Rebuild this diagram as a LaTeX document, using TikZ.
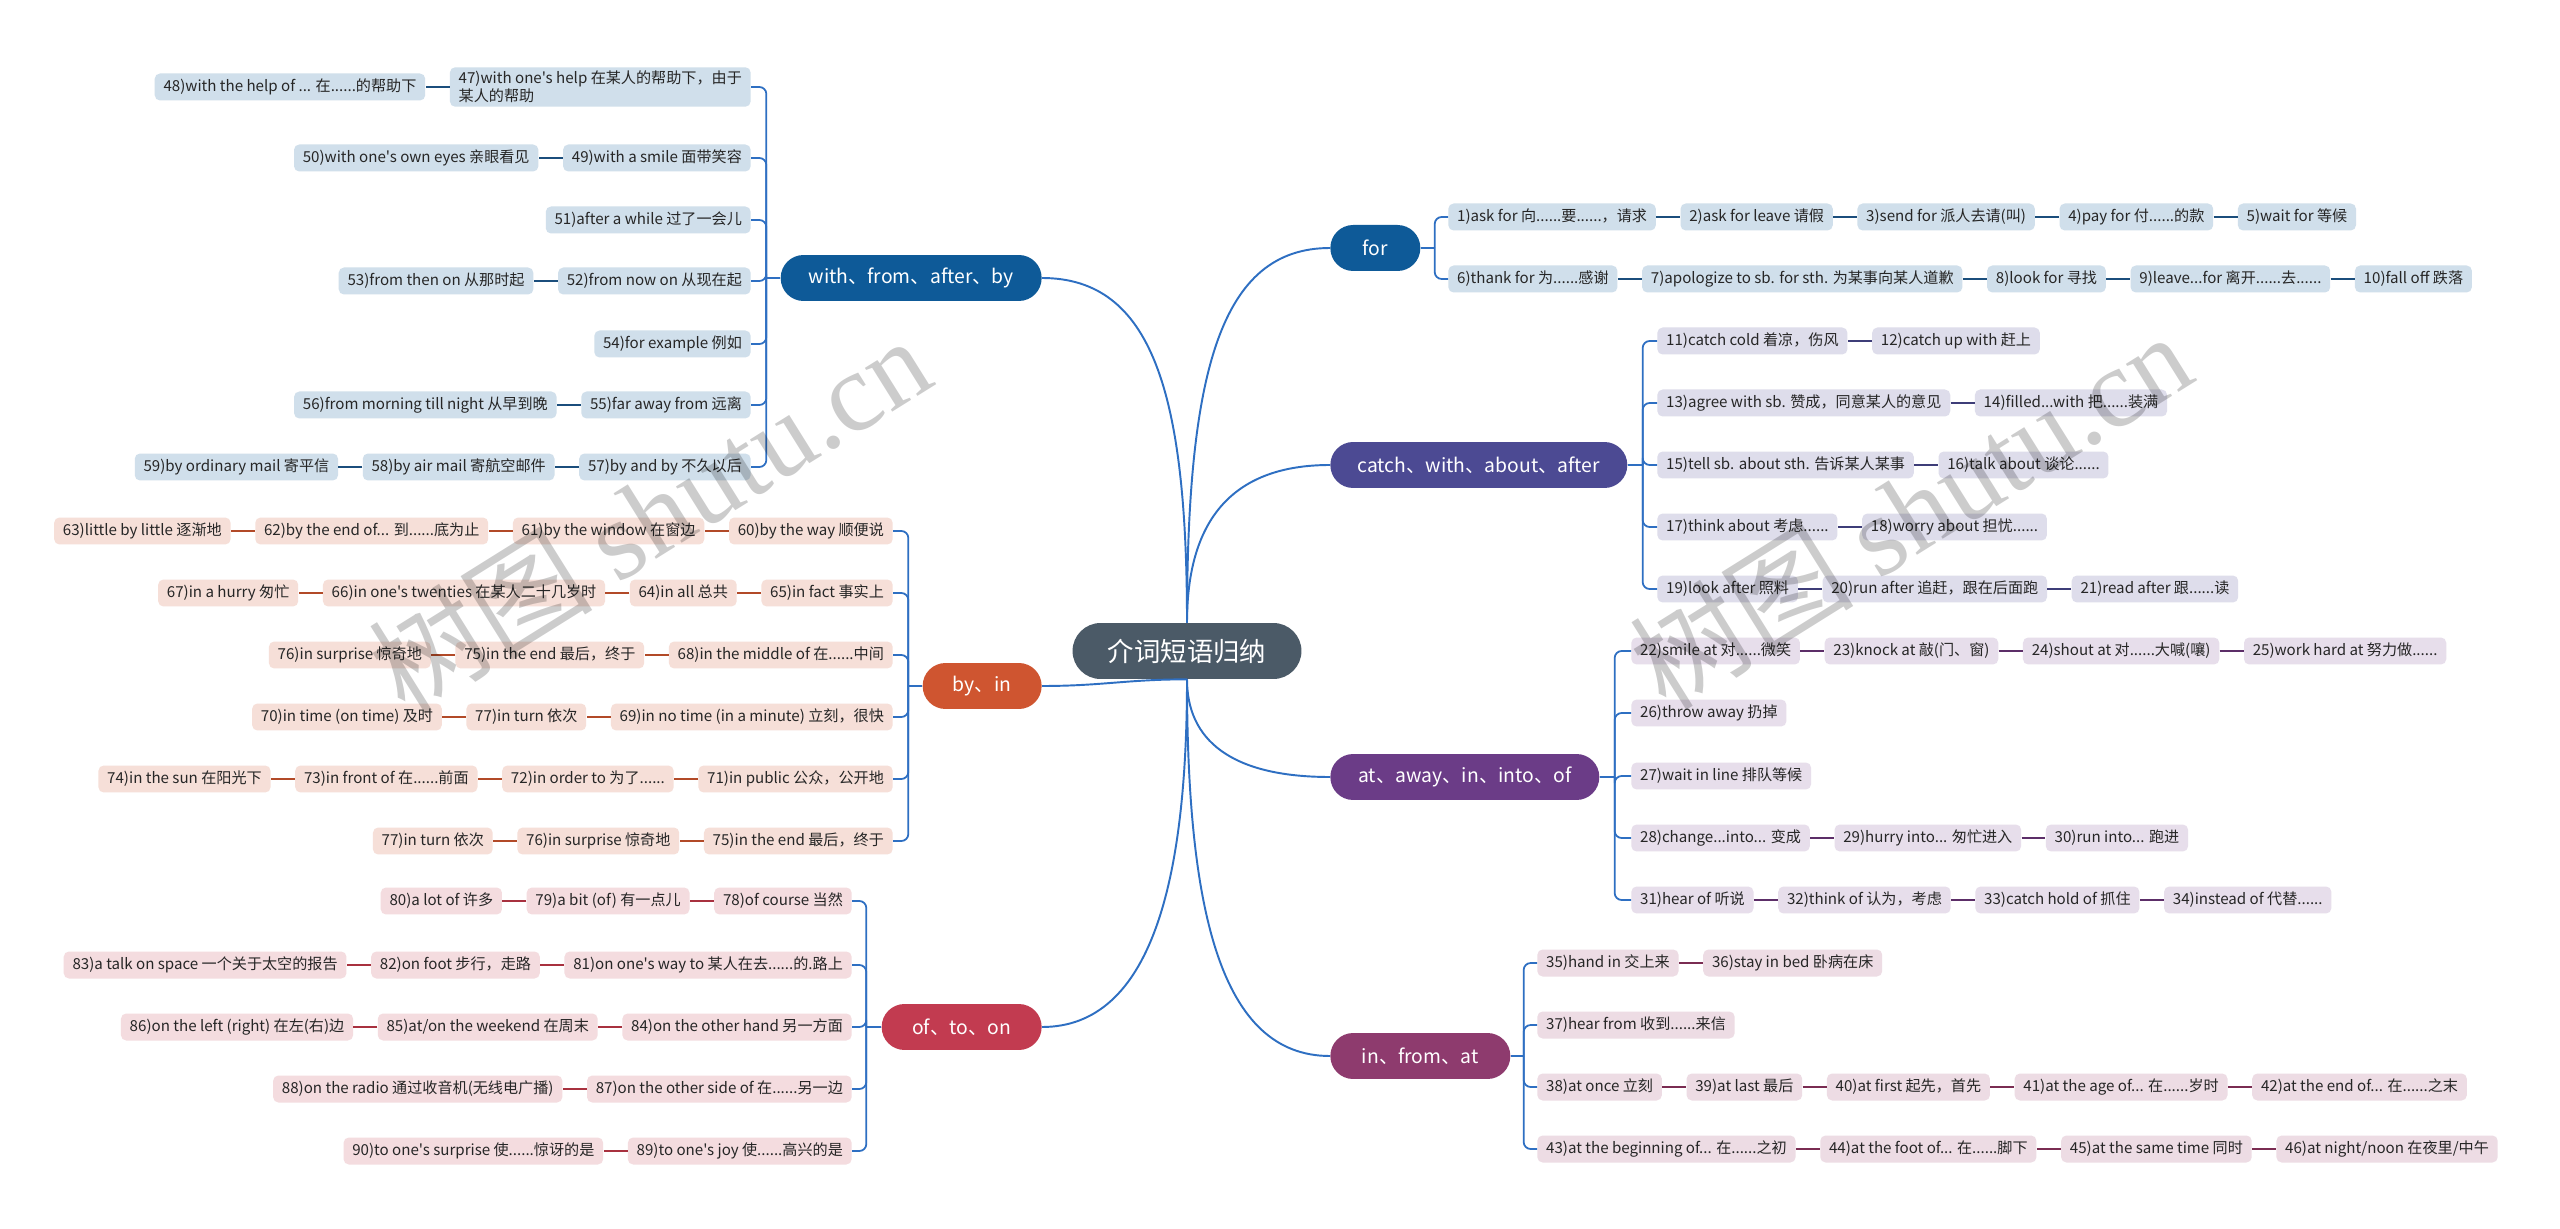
\documentclass[tikz,border=0pt]{standalone}
\usepackage{fontspec}
\setmainfont{Noto Sans CJK SC}[Ligatures=TeXOff]
\newfontfamily\wmserif{Liberation Serif}
\usetikzlibrary{positioning, calc}

\definecolor{cfor}{HTML}{0E5A98}
\definecolor{ccatch}{HTML}{4C4A93}
\definecolor{cat}{HTML}{6B3C87}
\definecolor{cin}{HTML}{8E3B6E}
\definecolor{cby}{HTML}{CF5530}
\definecolor{cof}{HTML}{C23B50}
\definecolor{croot}{HTML}{4B5A67}
\definecolor{cspine}{HTML}{2E6FC2}
\definecolor{lfor}{HTML}{D0DFEB}
\definecolor{lcatch}{HTML}{DEDDEB}
\definecolor{lat}{HTML}{E7DEEB}
\definecolor{lin}{HTML}{EDDCE4}
\definecolor{lby}{HTML}{F6DFD8}
\definecolor{lof}{HTML}{F4DCDF}
\definecolor{kfor}{HTML}{1B4E7C}
\definecolor{kcatch}{HTML}{3E3D78}
\definecolor{kat}{HTML}{5C2E68}
\definecolor{kin}{HTML}{7A2C52}
\definecolor{kby}{HTML}{B24A28}
\definecolor{kof}{HTML}{A8313F}

\tikzset{
  root/.style={
    rectangle,
    rounded corners=16pt,
    fill=croot,
    text=white,
    minimum width=4.58cm,
    minimum height=1.12cm,
    font=\fontsize{15}{18}\selectfont
  },
  topic/.style={
    rectangle,
    rounded corners=13pt,
    text=white,
    minimum height=0.92cm,
    inner xsep=8pt,
    font=\fontsize{11}{13}\selectfont
  },
  leaf/.style={
    rectangle,
    rounded corners=3pt,
    align=left,
    inner xsep=5pt,
    inner ysep=2pt,
    minimum height=0.54cm,
    text=black!85,
    font=\fontsize{8.6}{10.5}\selectfont
  },
  leaffor/.style={leaf, fill=lfor},
  leafcatch/.style={leaf, fill=lcatch},
  leafat/.style={leaf, fill=lat},
  leafin/.style={leaf, fill=lin},
  leafby/.style={leaf, fill=lby},
  leafof/.style={leaf, fill=lof},
  linkfor/.style={draw=kfor, line width=1.6pt},
  linkcatch/.style={draw=kcatch, line width=1.6pt},
  linkat/.style={draw=kat, line width=1.6pt},
  linkin/.style={draw=kin, line width=1.6pt},
  linkby/.style={draw=kby, line width=1.6pt},
  linkof/.style={draw=kof, line width=1.6pt},
  bracket/.style={draw=cspine, line width=1pt, rounded corners=4pt},
  curve/.style={draw=cspine, line width=1.1pt},
  watermark/.style={text=black, text opacity=0.2, font=\fontsize{64}{70}\selectfont}
}

\begin{document}
\begin{tikzpicture}[x=0.02cm, y=-0.02cm, node distance=0.48cm]
  \useasboundingbox[fill=white] (0,0) rectangle (2560,1229);

  \node[root] (root) at (1187,651) {介词短语归纳};

  % right side
  \node[topic, fill=cfor, minimum width=1.8cm, anchor=west] (gfor) at (1330,248) {for};
  \node[topic, fill=ccatch, minimum width=5.94cm, anchor=west] (gcatch) at (1330,465) {catch、with、about、after};
  \node[topic, fill=cat, minimum width=5.38cm, anchor=west] (gat) at (1330,777) {at、away、in、into、of};
  \node[topic, fill=cin, minimum width=3.6cm, anchor=west] (gin) at (1330,1056) {in、from、at};

  % left side
  \node[topic, fill=cfor, minimum width=5.22cm, anchor=east] (gwith) at (1042,278) {with、from、after、by};
  \node[topic, fill=cby, minimum width=2.38cm, anchor=east] (gby) at (1042,686) {by、in};
  \node[topic, fill=cof, minimum width=3.2cm, anchor=east] (gof) at (1042,1027) {of、to、on};

  \draw[curve] (root.north) .. controls +(0,-250) and +(-110,0) .. (gfor.west);
  \draw[curve] (root.north) .. controls +(0,-100) and +(-100,0) .. (gcatch.west);
  \draw[curve] (root.south) .. controls +(0,60) and +(-100,0) .. (gat.west);
  \draw[curve] (root.south) .. controls +(0,230) and +(-110,0) .. (gin.west);
  \draw[curve] (root.north) .. controls +(0,-230) and +(110,0) .. (gwith.east);
  \draw[curve] (root.south) .. controls +(-60,0) and +(60,0) .. (gby.east);
  \draw[curve] (root.south) .. controls +(0,200) and +(110,0) .. (gof.east);

  % for
  \node[leaffor, anchor=west] (n1) at (1448,217) {1)ask for 向......要......，请求};
  \node[leaffor, right=of n1] (n2) {2)ask for leave 请假};
  \node[leaffor, right=of n2] (n3) {3)send for 派人去请(叫)};
  \node[leaffor, right=of n3] (n4) {4)pay for 付......的款};
  \node[leaffor, right=of n4] (n5) {5)wait for 等候};
  \node[leaffor, anchor=west] (n6) at (1448,279) {6)thank for 为......感谢};
  \node[leaffor, right=of n6] (n7) {7)apologize to sb. for sth. 为某事向某人道歉};
  \node[leaffor, right=of n7] (n8) {8)look for 寻找};
  \node[leaffor, right=of n8] (n9) {9)leave...for 离开......去......};
  \node[leaffor, right=of n9] (n10) {10)fall off 跌落};

  % catch, with, about, after
  \node[leafcatch, anchor=west] (n11) at (1657,341) {11)catch cold 着凉，伤风};
  \node[leafcatch, right=of n11] (n12) {12)catch up with 赶上};
  \node[leafcatch, anchor=west] (n13) at (1657,403) {13)agree with sb. 赞成，同意某人的意见};
  \node[leafcatch, right=of n13] (n14) {14)filled...with 把......装满};
  \node[leafcatch, anchor=west] (n15) at (1657,465) {15)tell sb. about sth. 告诉某人某事};
  \node[leafcatch, right=of n15] (n16) {16)talk about 谈论......};
  \node[leafcatch, anchor=west] (n17) at (1657,527) {17)think about 考虑......};
  \node[leafcatch, right=of n17] (n18) {18)worry about 担忧......};
  \node[leafcatch, anchor=west] (n19) at (1657,589) {19)look after 照料};
  \node[leafcatch, right=of n19] (n20) {20)run after 追赶，跟在后面跑};
  \node[leafcatch, right=of n20] (n21) {21)read after 跟......读};

  % at, away, in, into, of
  \node[leafat, anchor=west] (n22) at (1631,651) {22)smile at 对......微笑};
  \node[leafat, right=of n22] (n23) {23)knock at 敲(门、窗)};
  \node[leafat, right=of n23] (n24) {24)shout at 对......大喊(嚷)};
  \node[leafat, right=of n24] (n25) {25)work hard at 努力做......};
  \node[leafat, anchor=west] (n26) at (1631,713) {26)throw away 扔掉};
  \node[leafat, anchor=west] (n27) at (1631,776) {27)wait in line 排队等候};
  \node[leafat, anchor=west] (n28) at (1631,838) {28)change...into... 变成};
  \node[leafat, right=of n28] (n29) {29)hurry into... 匆忙进入};
  \node[leafat, right=of n29] (n30) {30)run into... 跑进};
  \node[leafat, anchor=west] (n31) at (1631,900) {31)hear of 听说};
  \node[leafat, right=of n31] (n32) {32)think of 认为，考虑};
  \node[leafat, right=of n32] (n33) {33)catch hold of 抓住};
  \node[leafat, right=of n33] (n34) {34)instead of 代替......};

  % in, from, at
  \node[leafin, anchor=west] (n35) at (1537,963) {35)hand in 交上来};
  \node[leafin, right=of n35] (n36) {36)stay in bed 卧病在床};
  \node[leafin, anchor=west] (n37) at (1537,1025) {37)hear from 收到......来信};
  \node[leafin, anchor=west] (n38) at (1537,1087) {38)at once 立刻};
  \node[leafin, right=of n38] (n39) {39)at last 最后};
  \node[leafin, right=of n39] (n40) {40)at first 起先，首先};
  \node[leafin, right=of n40] (n41) {41)at the age of... 在......岁时};
  \node[leafin, right=of n41] (n42) {42)at the end of... 在......之末};
  \node[leafin, anchor=west] (n43) at (1537,1149) {43)at the beginning of... 在......之初};
  \node[leafin, right=of n43] (n44) {44)at the foot of... 在......脚下};
  \node[leafin, right=of n44] (n45) {45)at the same time 同时};
  \node[leafin, right=of n45] (n46) {46)at night/noon 在夜里/中午};

  % with, from, after, by
  \node[leaffor, anchor=east] (n47) at (751,87) {47)with one's help 在某人的帮助下，由于\\某人的帮助};
  \node[leaffor, left=of n47] (n48) {48)with the help of ... 在......的帮助下};
  \node[leaffor, anchor=east] (n49) at (751,158) {49)with a smile 面带笑容};
  \node[leaffor, left=of n49] (n50) {50)with one's own eyes 亲眼看见};
  \node[leaffor, anchor=east] (n51) at (751,220) {51)after a while 过了一会儿};
  \node[leaffor, anchor=east] (n52) at (751,281) {52)from now on 从现在起};
  \node[leaffor, left=of n52] (n53) {53)from then on 从那时起};
  \node[leaffor, anchor=east] (n54) at (751,344) {54)for example 例如};
  \node[leaffor, anchor=east] (n55) at (751,405) {55)far away from 远离};
  \node[leaffor, left=of n55] (n56) {56)from morning till night 从早到晚};
  \node[leaffor, anchor=east] (n57) at (751,467) {57)by and by 不久以后};
  \node[leaffor, left=of n57] (n58) {58)by air mail 寄航空邮件};
  \node[leaffor, left=of n58] (n59) {59)by ordinary mail 寄平信};

  % by, in
  \node[leafby, anchor=east] (n60) at (893,531) {60)by the way 顺便说};
  \node[leafby, left=of n60] (n61) {61)by the window 在窗边};
  \node[leafby, left=of n61] (n62) {62)by the end of... 到......底为止};
  \node[leafby, left=of n62] (n63) {63)little by little 逐渐地};
  \node[leafby, anchor=east] (n65) at (893,593) {65)in fact 事实上};
  \node[leafby, left=of n65] (n64) {64)in all 总共};
  \node[leafby, left=of n64] (n66) {66)in one's twenties 在某人二十几岁时};
  \node[leafby, left=of n66] (n67) {67)in a hurry 匆忙};
  \node[leafby, anchor=east] (n68) at (893,655) {68)in the middle of 在......中间};
  \node[leafby, left=of n68] (n75a) {75)in the end 最后，终于};
  \node[leafby, left=of n75a] (n76a) {76)in surprise 惊奇地};
  \node[leafby, anchor=east] (n69) at (893,717) {69)in no time (in a minute) 立刻，很快};
  \node[leafby, left=of n69] (n77a) {77)in turn 依次};
  \node[leafby, left=of n77a] (n70) {70)in time (on time) 及时};
  \node[leafby, anchor=east] (n71) at (893,779) {71)in public 公众，公开地};
  \node[leafby, left=of n71] (n72) {72)in order to 为了......};
  \node[leafby, left=of n72] (n73) {73)in front of 在......前面};
  \node[leafby, left=of n73] (n74) {74)in the sun 在阳光下};
  \node[leafby, anchor=east] (n75) at (893,841) {75)in the end 最后，终于};
  \node[leafby, left=of n75] (n76) {76)in surprise 惊奇地};
  \node[leafby, left=of n76] (n77) {77)in turn 依次};

  % of, to, on
  \node[leafof, anchor=east] (n78) at (852,901) {78)of course 当然};
  \node[leafof, left=of n78] (n79) {79)a bit (of) 有一点儿};
  \node[leafof, left=of n79] (n80) {80)a lot of 许多};
  \node[leafof, anchor=east] (n81) at (852,965) {81)on one's way to 某人在去......的.路上};
  \node[leafof, left=of n81] (n82) {82)on foot 步行，走路};
  \node[leafof, left=of n82] (n83) {83)a talk on space 一个关于太空的报告};
  \node[leafof, anchor=east] (n84) at (852,1027) {84)on the other hand 另一方面};
  \node[leafof, left=of n84] (n85) {85)at/on the weekend 在周末};
  \node[leafof, left=of n85] (n86) {86)on the left (right) 在左(右)边};
  \node[leafof, anchor=east] (n87) at (852,1089) {87)on the other side of 在......另一边};
  \node[leafof, left=of n87] (n88) {88)on the radio 通过收音机(无线电广播)};
  \node[leafof, anchor=east] (n89) at (852,1151) {89)to one's joy 使......高兴的是};
  \node[leafof, left=of n89] (n90) {90)to one's surprise 使......惊讶的是};

  % brackets
  \coordinate (sfor) at ($(gfor.east)+(14,0)$);
  \coordinate (scatch) at ($(gcatch.east)+(15,0)$);
  \coordinate (sat) at ($(gat.east)+(15,0)$);
  \coordinate (sin) at ($(gin.east)+(13,0)$);
  \coordinate (swith) at ($(gwith.west)+(-14,0)$);
  \coordinate (sby) at ($(gby.west)+(-14,0)$);
  \coordinate (sof) at ($(gof.west)+(-15,0)$);
  \draw[bracket] (gfor.east) -- (sfor);
  \draw[bracket] (gcatch.east) -- (scatch);
  \draw[bracket] (gat.east) -- (sat);
  \draw[bracket] (gin.east) -- (sin);
  \draw[bracket] (gwith.west) -- (swith);
  \draw[bracket] (gby.west) -- (sby);
  \draw[bracket] (gof.west) -- (sof);
  \foreach \n in {n1,n6} \draw[bracket] (sfor) |- (\n.west);
  \foreach \n in {n11,n13,n15,n17,n19} \draw[bracket] (scatch) |- (\n.west);
  \foreach \n in {n22,n26,n27,n28,n31} \draw[bracket] (sat) |- (\n.west);
  \foreach \n in {n35,n37,n38,n43} \draw[bracket] (sin) |- (\n.west);
  \foreach \n in {n47,n49,n51,n52,n54,n55,n57} \draw[bracket] (swith) |- (\n.east);
  \foreach \n in {n60,n65,n68,n69,n71,n75} \draw[bracket] (sby) |- (\n.east);
  \foreach \n in {n78,n81,n84,n87,n89} \draw[bracket] (sof) |- (\n.east);

  % links between leaves
  \foreach \a/\b in {n1/n2,n2/n3,n3/n4,n4/n5,n6/n7,n7/n8,n8/n9,n9/n10,n47/n48,n49/n50,n52/n53,n55/n56,n57/n58,n58/n59}
    \draw[linkfor] (\a) -- (\b);
  \foreach \a/\b in {n11/n12,n13/n14,n15/n16,n17/n18,n19/n20,n20/n21}
    \draw[linkcatch] (\a) -- (\b);
  \foreach \a/\b in {n22/n23,n23/n24,n24/n25,n28/n29,n29/n30,n31/n32,n32/n33,n33/n34}
    \draw[linkat] (\a) -- (\b);
  \foreach \a/\b in {n35/n36,n38/n39,n39/n40,n40/n41,n41/n42,n43/n44,n44/n45,n45/n46}
    \draw[linkin] (\a) -- (\b);
  \foreach \a/\b in {n60/n61,n61/n62,n62/n63,n65/n64,n64/n66,n66/n67,n68/n75a,n75a/n76a,n69/n77a,n77a/n70,n71/n72,n72/n73,n73/n74,n75/n76,n76/n77}
    \draw[linkby] (\a) -- (\b);
  \foreach \a/\b in {n78/n79,n79/n80,n81/n82,n82/n83,n84/n85,n85/n86,n87/n88,n89/n90}
    \draw[linkof] (\a) -- (\b);

  % watermarks
  \node[watermark, rotate=32] (wm1) at (649,514) {树图 {\wmserif shutu.cn}};
  \node[watermark, rotate=32] (wm2) at (1910,510) {树图 {\wmserif shutu.cn}};
\end{tikzpicture}
\end{document}
